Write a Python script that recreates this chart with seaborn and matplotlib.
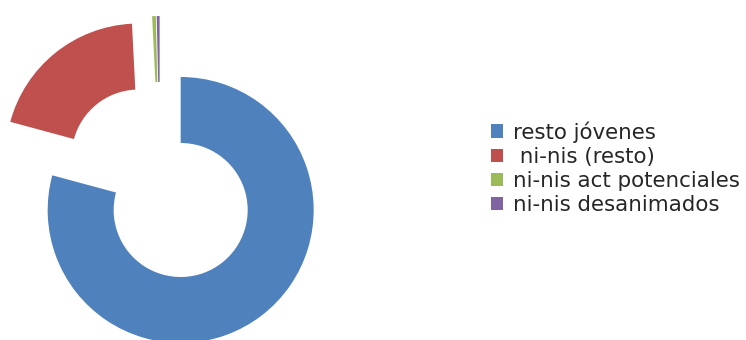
import matplotlib
matplotlib.use("Agg")
import matplotlib.pyplot as plt
import seaborn as sns

sns.set_theme(style="white")
plt.rcParams['font.family'] = ['DejaVu Sans']

categories = ["resto jóvenes", " ni-nis (resto)", "ni-nis act potenciales", "ni-nis desanimados"]
values = [79.2, 20.0, 0.45, 0.35]
colors = ["#4F81BD", "#C0504D", "#9BBB59", "#8064A2"]

W, H = 746, 340
fig = plt.figure(figsize=(W / 100, H / 100), dpi=100)
ax = fig.add_axes([0, 0, 1, 1])

radius = 133
wedges, _ = ax.pie(values, colors=colors, startangle=90, counterclock=False,
                   radius=radius, center=(160, H - 183),
                   explode=[34] * len(values),
                   wedgeprops=dict(width=66, edgecolor='none'),
                   frame=True)
ax.set_xlim(0, W)
ax.set_ylim(0, H)
ax.set_aspect('equal')
ax.axis('off')

leg = ax.legend(wedges, categories, loc='upper left',
                bbox_to_anchor=(491 / W, 1 - 121 / H), bbox_transform=fig.transFigure,
                frameon=False, fontsize=15.4, handlelength=0.57, handleheight=0.57,
                handletextpad=0.45, labelspacing=0.2, borderaxespad=0, borderpad=0)
for t in leg.get_texts():
    t.set_color('#262626')

fig.savefig("out.png", dpi=100)
